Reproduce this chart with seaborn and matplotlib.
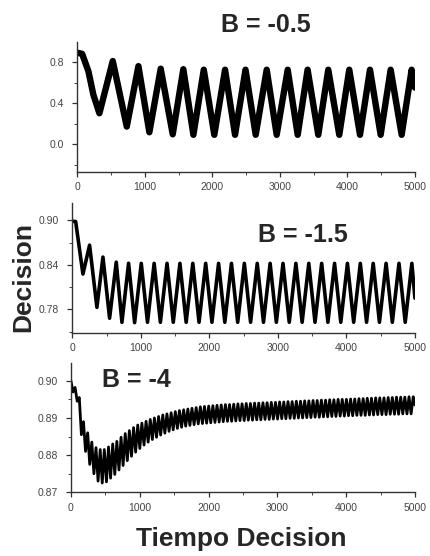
import matplotlib
matplotlib.use("Agg")
import matplotlib.pyplot as plt
import seaborn as sns
import pandas as pd
from matplotlib.ticker import MultipleLocator

# ---------------- data ----------------
# Panel 1: B = -0.5  (extrema of the oscillation)
b05_x = [0, 70, 163, 237, 326, 524, 731, 904, 1066, 1234, 1412, 1569, 1718, 1872,
         2028, 2187, 2335, 2490, 2641, 2804, 2952, 3115, 3263, 3410, 3568, 3716,
         3879, 4027, 4186, 4334, 4492, 4640, 4803, 4951, 5000]
b05_y = [0.89, 0.88, 0.71, 0.48, 0.30, 0.81, 0.17, 0.76, 0.115, 0.735, 0.095, 0.73,
         0.09, 0.725, 0.09, 0.725, 0.09, 0.725, 0.09, 0.725, 0.09, 0.725, 0.09, 0.725,
         0.09, 0.725, 0.09, 0.725, 0.09, 0.725, 0.09, 0.725, 0.09, 0.725, 0.55]

# Panel 2: B = -1.5
b15_x = [0, 50, 156, 253, 360, 448, 545, 642, 725, 822, 910, 1007, 1098, 1195, 1286,
         1383, 1474, 1571, 1662, 1759, 1850, 1947, 2038, 2135, 2226, 2323, 2414, 2511,
         2602, 2699, 2790, 2887, 2978, 3075, 3166, 3263, 3354, 3451, 3542, 3639, 3730,
         3827, 3918, 4015, 4106, 4203, 4294, 4391, 4482, 4579, 4670, 4767, 4858, 4955,
         5000]
b15_y = [0.899, 0.8985, 0.8276, 0.8666, 0.7826, 0.8505, 0.768, 0.8436, 0.7624, 0.8422,
         0.762, 0.842, 0.7625, 0.842, 0.7625, 0.842, 0.7625, 0.842, 0.7625, 0.842,
         0.7625, 0.842, 0.7625, 0.842, 0.7625, 0.842, 0.7625, 0.842, 0.7625, 0.842,
         0.7625, 0.842, 0.7625, 0.842, 0.7625, 0.842, 0.7625, 0.842, 0.7625, 0.842,
         0.7625, 0.842, 0.7625, 0.842, 0.7625, 0.842, 0.7625, 0.842, 0.7625, 0.842,
         0.7625, 0.842, 0.7625, 0.842, 0.795]

# Panel 3: B = -4  (peaks and troughs of the fast oscillation)
b4_start = (0, 0.900)
b4_end = (5000, 0.8935)
b4_peak_x = [60, 121, 182, 243, 303, 364, 425, 485, 546, 607,
             667, 728, 789, 849, 910, 971, 1031, 1092, 1153, 1213,
             1274, 1335, 1395, 1456, 1517, 1577, 1638, 1699, 1759, 1820,
             1881, 1941, 2002, 2063, 2123, 2184, 2245, 2305, 2366, 2427,
             2487, 2548, 2609, 2669, 2730, 2791, 2851, 2912, 2973, 3033,
             3094, 3155, 3215, 3276, 3337, 3397, 3458, 3519, 3579, 3640,
             3701, 3761, 3822, 3883, 3943, 4004, 4065, 4125, 4186, 4247,
             4307, 4368, 4429, 4489, 4550, 4611, 4671, 4732, 4793, 4853,
             4914, 4975]
b4_peak_y = [.8982, .8955, .8890, .8860, .8835, .8820, .8815, .8815, .8822, .8830,
             .8837, .8848, .8858, .8866, .8874, .8881, .8886, .8891, .8896, .8900,
             .8904, .8908, .8911, .8914, .8917, .8920, .8922, .8924, .8926, .8928,
             .8930, .8931, .8932, .8933, .8934, .8935, .8936, .8936, .8937, .8938,
             .8938, .8939, .8939, .8940, .8940, .8941, .8941, .8942, .8942, .8943,
             .8943, .8944, .8944, .8945, .8945, .8946, .8946, .8947, .8947, .8948,
             .8948, .8949, .8949, .8950, .8950, .8950, .8951, .8951, .8952, .8952,
             .8953, .8953, .8954, .8954, .8954, .8955, .8955, .8956, .8956, .8956,
             .8957, .8957]
b4_trough_x = [30, 91, 152, 212, 273, 334, 394, 455, 516, 576,
               637, 698, 758, 819, 880, 940, 1001, 1062, 1122, 1183,
               1244, 1304, 1365, 1426, 1486, 1547, 1608, 1668, 1729, 1790,
               1850, 1911, 1972, 2032, 2093, 2154, 2214, 2275, 2336, 2396,
               2457, 2518, 2578, 2639, 2700, 2760, 2821, 2882, 2942, 3003,
               3064, 3124, 3185, 3246, 3306, 3367, 3428, 3488, 3549, 3610,
               3670, 3731, 3792, 3852, 3913, 3974, 4034, 4095, 4156, 4216,
               4277, 4338, 4398, 4459, 4520, 4580, 4641, 4702, 4762, 4823,
               4884, 4944]
b4_trough_y = [.8970, .8945, .8855, .8810, .8775, .8750, .8730, .8725, .8728, .8738,
               .8748, .8760, .8772, .8785, .8797, .8808, .8818, .8827, .8835, .8842,
               .8848, .8854, .8859, .8864, .8868, .8872, .8875, .8878, .8880, .8882,
               .8884, .8885, .8886, .8887, .8888, .8889, .8890, .8891, .8891, .8892,
               .8893, .8893, .8894, .8894, .8895, .8895, .8896, .8896, .8897, .8897,
               .8898, .8898, .8899, .8899, .8900, .8900, .8901, .8901, .8902, .8902,
               .8903, .8903, .8904, .8904, .8905, .8905, .8906, .8906, .8907, .8907,
               .8907, .8908, .8908, .8909, .8909, .8909, .8910, .8910, .8910, .8911,
               .8911, .8911]

titles = ["B = -0.5", "B = -1.5", "B = -4"]
y_ticks = [[0.0, 0.4, 0.8], [0.78, 0.84, 0.90], [0.87, 0.88, 0.89, 0.90]]
y_labels = [["0.0", "0.4", "0.8"], ["0.78", "0.84", "0.90"],
            ["0.87", "0.88", "0.89", "0.90"]]
x_ticks = [0, 1000, 2000, 3000, 4000, 5000]
x_labels = ["0", "1000", "2000", "3000", "4000", "5000"]
x_label = "Tiempo Decision"
y_label = "Decision"

# ---------------- build tables ----------------
df1 = pd.DataFrame({"t": b05_x, "d": b05_y})
df2 = pd.DataFrame({"t": b15_x, "d": b15_y})
df3 = pd.concat([
    pd.DataFrame({"t": [b4_start[0]], "d": [b4_start[1]]}),
    pd.DataFrame({"t": b4_peak_x, "d": b4_peak_y}),
    pd.DataFrame({"t": b4_trough_x, "d": b4_trough_y}),
    pd.DataFrame({"t": [b4_end[0]], "d": [b4_end[1]]}),
]).sort_values("t").reset_index(drop=True)

# ---------------- style ----------------
sns.set_style("ticks")
plt.rcParams["font.family"] = ["Liberation Sans", "DejaVu Sans"]

fig = plt.figure(figsize=(4.3, 5.56), dpi=100)
fig.patch.set_facecolor("white")
ax1 = fig.add_axes([0.180, 0.6906, 0.785, 0.2338])
ax2 = fig.add_axes([0.168, 0.4011, 0.797, 0.2344])
ax3 = fig.add_axes([0.165, 0.1146, 0.800, 0.2326])
axes = [ax1, ax2, ax3]
dfs = [df1, df2, df3]
lws = [4.6, 2.6, 2.0]
ylims = [(-0.273, 0.995), (0.748, 0.924), (0.87, 0.9048)]
yminor = [0.2, 0.03, 0.005]

for ax, df, lw, yl, yt, ylab, ym in zip(axes, dfs, lws, ylims, y_ticks, y_labels, yminor):
    sns.lineplot(data=df, x="t", y="d", ax=ax, color="black", lw=lw,
                 estimator=None, sort=False, solid_joinstyle="round",
                 solid_capstyle="round")
    ax.set_xlim(0, 5000)
    ax.set_ylim(*yl)
    ax.set_xticks(x_ticks)
    ax.set_xticklabels(x_labels)
    ax.set_yticks(yt)
    ax.set_yticklabels(ylab)
    ax.xaxis.set_minor_locator(MultipleLocator(500))
    ax.yaxis.set_minor_locator(MultipleLocator(ym))
    ax.set_xlabel("")
    ax.set_ylabel("")
    ax.set_facecolor("white")
    for s in ["top", "right"]:
        ax.spines[s].set_visible(False)
    for s in ["left", "bottom"]:
        ax.spines[s].set_color("#333333")
        ax.spines[s].set_linewidth(1.0)
    ax.tick_params(which="major", direction="out", length=3.5, width=0.9,
                   colors="#333333", labelsize=7.5, labelcolor="#444444")
    ax.tick_params(axis="x", which="major", pad=4)
    ax.tick_params(axis="y", which="major", pad=6)
    ax.tick_params(which="minor", direction="out", length=2, width=0.7,
                   colors="#444444")

# titles and axis labels
fig.text(265.7 / 430, 1 - 31.7 / 556, titles[0], ha="center", va="baseline",
         fontsize=18, fontweight="bold")
fig.text(303 / 430, 1 - 241.7 / 556, titles[1], ha="center", va="baseline",
         fontsize=18, fontweight="bold")
fig.text(136 / 430, 1 - 387.3 / 556, titles[2], ha="center", va="baseline",
         fontsize=18, fontweight="bold")
fig.text(23 / 430, 1 - 276.7 / 556, y_label, ha="center", va="center",
         rotation=90, fontsize=19, fontweight="bold")
fig.text(241 / 430, 1 - 546 / 556, x_label, ha="center", va="baseline",
         fontsize=19, fontweight="bold")

fig.savefig("out.png", dpi=100, facecolor="white")
